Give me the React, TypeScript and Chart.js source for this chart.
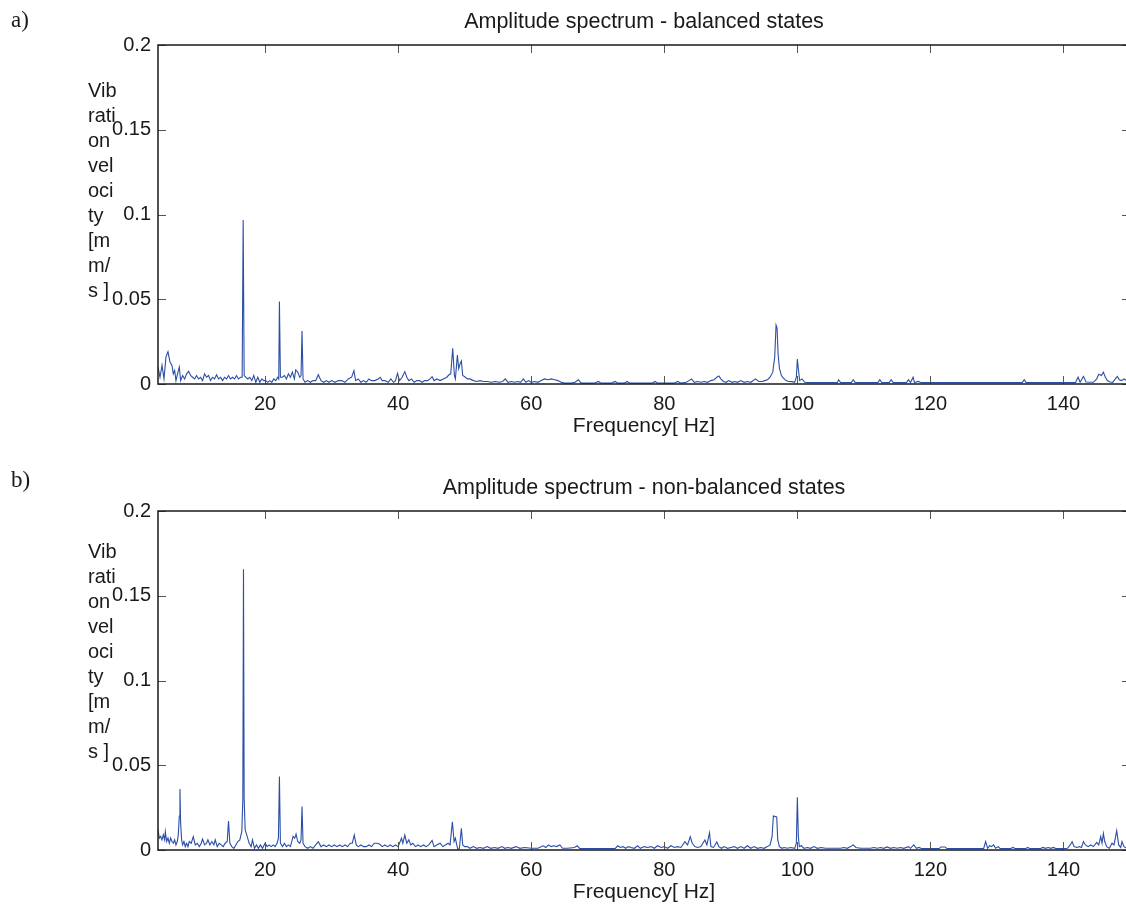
import React, { useEffect, useRef } from 'react';
import { Chart, registerables } from 'chart.js';

Chart.register(...registerables);

const X_MIN = 3.9;
const X_MAX = 150;
const Y_MIN = 0;
const Y_MAX = 0.2;
const X_TICKS = [20, 40, 60, 80, 100, 120, 140];
const Y_TICKS = [0, 0.05, 0.1, 0.15, 0.2];
const Y_TICK_LABELS = ['0', '0.05', '0.1', '0.15', '0.2'];
const Y_LABEL_LINES = ['Vib', 'rati', 'on', 'vel', 'oci', 'ty', '[m', 'm/', 's ]'];
const X_LABEL = 'Frequency[ Hz]';
const TITLE_A = 'Amplitude spectrum - balanced states';
const TITLE_B = 'Amplitude spectrum - non-balanced states';
const TAG_A = 'a)';
const TAG_B = 'b)';

// [frequency Hz, amplitude mm/s]
const BALANCED: [number, number][] = [
  [3.9, 0.010], [4.2, 0.004], [4.5, 0.011], [4.8, 0.003], [5.1, 0.016], [5.4, 0.019], [5.7, 0.013], [6.0, 0.011],
  [6.2, 0.006], [6.4, 0.008], [6.6, 0.002], [6.9, 0.007], [7.1, 0.010], [7.3, 0.002], [7.6, 0.005], [7.9, 0.003],
  [8.2, 0.006], [8.5, 0.0075], [8.8, 0.005], [9.1, 0.004], [9.4, 0.003], [9.7, 0.005], [10.0, 0.003], [10.3, 0.004],
  [10.6, 0.002], [10.9, 0.006], [11.2, 0.004], [11.5, 0.005], [11.8, 0.002], [12.1, 0.004], [12.4, 0.003], [12.7, 0.0055],
  [13.0, 0.003], [13.3, 0.004], [13.6, 0.002], [13.9, 0.004], [14.2, 0.003], [14.5, 0.005], [14.8, 0.003], [15.1, 0.004],
  [15.4, 0.003], [15.7, 0.005], [16.0, 0.003], [16.3, 0.004], [16.55, 0.004], [16.7, 0.0968], [16.85, 0.005], [17.1, 0.004],
  [17.4, 0.003], [17.7, 0.004], [18.0, 0.002], [18.3, 0.005], [18.6, 0.001], [18.9, 0.004], [19.2, 0.001], [19.5, 0.003],
  [19.8, 0.002], [20.1, 0.002], [20.4, 0.001], [20.7, 0.002], [21.0, 0.001], [21.3, 0.003], [21.6, 0.002], [21.9, 0.004],
  [22.05, 0.003], [22.15, 0.0486], [22.3, 0.004], [22.6, 0.004], [22.9, 0.005], [23.2, 0.003], [23.5, 0.006], [23.8, 0.004],
  [24.1, 0.007], [24.4, 0.003], [24.6, 0.0083], [24.9, 0.007], [25.2, 0.004], [25.4, 0.005], [25.55, 0.0313], [25.7, 0.003],
  [26.0, 0.001], [26.4, 0.002], [26.8, 0.001], [27.2, 0.002], [27.6, 0.002], [28.0, 0.0055], [28.4, 0.002], [28.8, 0.001],
  [29.2, 0.002], [29.6, 0.001], [30.0, 0.002], [30.5, 0.001], [31.0, 0.002], [31.5, 0.002], [32.0, 0.001], [32.5, 0.003],
  [33.0, 0.004], [33.35, 0.0079], [33.6, 0.002], [34.0, 0.003], [34.4, 0.001], [34.8, 0.002], [35.2, 0.001], [35.6, 0.003],
  [36.0, 0.002], [36.5, 0.002], [37.0, 0.003], [37.3, 0.004], [37.6, 0.002], [38.0, 0.002], [38.5, 0.001], [38.9, 0.003],
  [39.3, 0.001], [39.6, 0.002], [39.9, 0.0063], [40.2, 0.002], [40.6, 0.004], [41.0, 0.0073], [41.3, 0.004], [41.6, 0.002],
  [42.0, 0.003], [42.4, 0.001], [42.8, 0.002], [43.2, 0.002], [43.6, 0.001], [44.0, 0.002], [44.4, 0.002], [44.8, 0.003],
  [45.1, 0.0043], [45.4, 0.002], [45.8, 0.003], [46.3, 0.002], [46.8, 0.003], [47.3, 0.004], [47.6, 0.0053], [47.9, 0.006],
  [48.2, 0.021], [48.45, 0.005], [48.6, 0.003], [48.9, 0.0171], [49.1, 0.009], [49.3, 0.012], [49.5, 0.0136], [49.7, 0.005],
  [50.0, 0.0043], [50.4, 0.003], [50.8, 0.003], [51.3, 0.002], [51.8, 0.0015], [52.3, 0.002], [52.8, 0.0015], [53.4, 0.0015],
  [54.0, 0.001], [54.6, 0.0015], [55.2, 0.001], [55.7, 0.0015], [56.1, 0.003], [56.5, 0.001], [57.0, 0.0015], [57.5, 0.001],
  [58.0, 0.0015], [58.4, 0.001], [58.8, 0.003], [59.2, 0.001], [59.6, 0.002], [60.0, 0.001], [60.5, 0.0015], [61.0, 0.001],
  [61.5, 0.002], [62.0, 0.003], [62.5, 0.0025], [63.0, 0.003], [63.5, 0.0025], [64.0, 0.002], [64.5, 0.001], [65.0, 0.0005],
  [66.0, 0.0005], [66.6, 0.001], [67.1, 0.0025], [67.5, 0.0005], [68.5, 0.0005], [69.5, 0.0005], [70.1, 0.0015], [70.5, 0.0005],
  [72.0, 0.0005], [72.6, 0.0015], [73.0, 0.0005], [74.0, 0.0005], [74.4, 0.0015], [74.8, 0.0005], [76.0, 0.0005], [77.0, 0.0005],
  [78.2, 0.0005], [78.6, 0.0015], [79.0, 0.0005], [80.5, 0.0005], [81.5, 0.0005], [82.0, 0.0015], [82.5, 0.0005], [83.3, 0.001],
  [83.7, 0.002], [84.1, 0.003], [84.5, 0.001], [85.0, 0.0015], [85.5, 0.001], [86.0, 0.0015], [86.5, 0.001], [87.0, 0.002],
  [87.5, 0.0025], [87.9, 0.004], [88.2, 0.0047], [88.5, 0.003], [88.9, 0.0015], [89.3, 0.001], [89.7, 0.002], [90.2, 0.001],
  [90.6, 0.0015], [91.0, 0.001], [91.5, 0.002], [92.0, 0.001], [92.5, 0.0015], [93.0, 0.001], [93.7, 0.003], [94.2, 0.0015],
  [94.7, 0.0015], [95.1, 0.002], [95.5, 0.0025], [95.9, 0.004], [96.3, 0.007], [96.6, 0.016], [96.8, 0.0348], [96.95, 0.033],
  [97.1, 0.018], [97.3, 0.0094], [97.6, 0.005], [97.9, 0.0035], [98.3, 0.002], [98.7, 0.0015], [99.2, 0.0014], [99.6, 0.001],
  [99.85, 0.004], [100.0, 0.0147], [100.15, 0.009], [100.35, 0.002], [100.7, 0.003], [101.1, 0.001], [101.5, 0.0008], [106.0, 0.0008],
  [106.2, 0.0025], [106.5, 0.0008], [108.1, 0.0008], [108.4, 0.0025], [108.7, 0.0008], [112.1, 0.0008], [112.4, 0.0025], [112.7, 0.0008],
  [113.8, 0.0008], [114.1, 0.0025], [114.4, 0.0008], [116.4, 0.0008], [116.7, 0.0025], [117.0, 0.0008], [117.4, 0.004], [117.6, 0.0008],
  [118.2, 0.0015], [118.6, 0.0008], [133.8, 0.0008], [134.1, 0.0025], [134.4, 0.0008], [141.8, 0.0008], [142.2, 0.004], [142.5, 0.001],
  [143.0, 0.0045], [143.4, 0.0012], [144.5, 0.001], [145.0, 0.003], [145.3, 0.0057], [145.7, 0.005], [146.0, 0.0069], [146.3, 0.004],
  [146.6, 0.002], [147.0, 0.0012], [147.4, 0.001], [147.8, 0.003], [148.1, 0.0045], [148.4, 0.0025], [148.7, 0.002], [149.1, 0.003],
  [149.5, 0.002], [150.0, 0.002],
];

const NON_BALANCED: [number, number][] = [
  [3.9, 0.012], [4.1, 0.007], [4.3, 0.008], [4.5, 0.006], [4.7, 0.009], [4.9, 0.006], [5.0, 0.0108], [5.2, 0.005],
  [5.4, 0.007], [5.6, 0.004], [5.8, 0.007], [6.0, 0.005], [6.2, 0.004], [6.4, 0.006], [6.6, 0.003], [6.8, 0.005],
  [6.95, 0.009], [7.1, 0.02], [7.2, 0.036], [7.3, 0.016], [7.45, 0.006], [7.6, 0.003], [7.8, 0.005], [8.0, 0.002],
  [8.2, 0.004], [8.4, 0.002], [8.6, 0.005], [8.9, 0.004], [9.2, 0.0079], [9.5, 0.003], [9.8, 0.004], [10.1, 0.002],
  [10.4, 0.004], [10.6, 0.0065], [10.9, 0.003], [11.2, 0.004], [11.4, 0.006], [11.7, 0.003], [12.0, 0.005], [12.3, 0.003],
  [12.5, 0.006], [12.8, 0.002], [13.1, 0.004], [13.4, 0.003], [13.7, 0.002], [14.0, 0.004], [14.3, 0.005], [14.5, 0.0171],
  [14.7, 0.004], [15.0, 0.002], [15.3, 0.001], [15.6, 0.003], [15.9, 0.005], [16.2, 0.006], [16.5, 0.011], [16.65, 0.03],
  [16.75, 0.1656], [16.85, 0.03], [17.0, 0.012], [17.3, 0.008], [17.6, 0.004], [17.9, 0.002], [18.1, 0.006], [18.4, 0.001],
  [18.7, 0.003], [19.0, 0.001], [19.3, 0.003], [19.6, 0.001], [20.0, 0.004], [20.3, 0.002], [20.6, 0.003], [20.9, 0.002],
  [21.2, 0.003], [21.5, 0.002], [21.8, 0.004], [22.0, 0.007], [22.15, 0.0433], [22.3, 0.004], [22.6, 0.002], [22.9, 0.004],
  [23.2, 0.002], [23.5, 0.003], [23.8, 0.002], [24.0, 0.005], [24.2, 0.008], [24.45, 0.007], [24.65, 0.0094], [24.9, 0.005],
  [25.2, 0.004], [25.4, 0.006], [25.55, 0.0256], [25.7, 0.004], [26.0, 0.002], [26.4, 0.001], [26.8, 0.002], [27.2, 0.001],
  [27.6, 0.003], [28.0, 0.0049], [28.4, 0.002], [28.8, 0.003], [29.2, 0.002], [29.6, 0.003], [30.0, 0.002], [30.4, 0.003],
  [30.8, 0.002], [31.2, 0.003], [31.6, 0.002], [32.0, 0.003], [32.4, 0.002], [32.8, 0.004], [33.1, 0.004], [33.4, 0.0088],
  [33.7, 0.003], [34.0, 0.002], [34.4, 0.003], [34.8, 0.002], [35.2, 0.002], [35.6, 0.003], [36.0, 0.002], [36.4, 0.004],
  [36.8, 0.004], [37.2, 0.0035], [37.6, 0.002], [38.0, 0.003], [38.4, 0.002], [38.8, 0.003], [39.2, 0.002], [39.6, 0.003],
  [40.0, 0.002], [40.3, 0.005], [40.5, 0.0069], [40.7, 0.004], [41.0, 0.0088], [41.3, 0.004], [41.6, 0.006], [41.9, 0.003],
  [42.2, 0.004], [42.6, 0.002], [43.0, 0.003], [43.4, 0.002], [43.8, 0.003], [44.2, 0.002], [44.6, 0.003], [45.1, 0.0057],
  [45.4, 0.002], [45.8, 0.003], [46.3, 0.004], [46.7, 0.002], [47.1, 0.003], [47.5, 0.004], [47.8, 0.003], [48.15, 0.0167],
  [48.4, 0.005], [48.6, 0.007], [48.8, 0.003], [49.0, 0.0], [49.2, 0.001], [49.5, 0.0128], [49.7, 0.003], [50.0, 0.002],
  [50.4, 0.0021], [50.8, 0.001], [51.3, 0.002], [51.8, 0.001], [52.3, 0.0015], [52.8, 0.001], [53.4, 0.002], [53.9, 0.001],
  [54.5, 0.0015], [55.0, 0.001], [55.6, 0.002], [56.0, 0.001], [56.5, 0.0015], [57.0, 0.001], [57.7, 0.002], [58.3, 0.001],
  [59.0, 0.0015], [60.0, 0.001], [60.5, 0.001], [61.0, 0.001], [61.8, 0.0025], [62.2, 0.0015], [62.6, 0.003], [63.0, 0.002],
  [63.4, 0.0025], [63.8, 0.002], [64.3, 0.003], [64.7, 0.001], [65.5, 0.001], [66.5, 0.0015], [66.9, 0.0025], [67.3, 0.0008],
  [72.6, 0.0008], [73.0, 0.0025], [73.4, 0.0015], [73.8, 0.002], [74.2, 0.001], [74.6, 0.002], [75.0, 0.0015], [75.5, 0.001],
  [76.0, 0.0025], [76.4, 0.001], [77.0, 0.002], [77.5, 0.0015], [78.0, 0.002], [78.5, 0.001], [79.0, 0.0025], [79.5, 0.0015],
  [80.0, 0.002], [80.5, 0.001], [81.0, 0.0025], [81.5, 0.0015], [82.0, 0.002], [82.5, 0.0015], [83.1, 0.0049], [83.5, 0.003],
  [83.9, 0.0079], [84.2, 0.004], [84.6, 0.002], [85.0, 0.0015], [85.5, 0.002], [85.8, 0.004], [86.1, 0.0059], [86.4, 0.003],
  [86.8, 0.0102], [87.0, 0.002], [87.4, 0.0015], [87.9, 0.0047], [88.2, 0.002], [88.6, 0.001], [89.0, 0.002], [89.5, 0.001],
  [90.0, 0.0015], [90.5, 0.002], [91.0, 0.001], [91.5, 0.002], [92.0, 0.001], [92.5, 0.0025], [93.0, 0.001], [93.5, 0.002],
  [94.0, 0.001], [94.5, 0.0015], [95.0, 0.001], [95.5, 0.002], [95.9, 0.003], [96.2, 0.008], [96.4, 0.0201], [96.7, 0.0197],
  [96.9, 0.0195], [97.05, 0.006], [97.3, 0.002], [97.7, 0.001], [98.0, 0.0015], [98.5, 0.001], [99.0, 0.0015], [99.6, 0.001],
  [99.85, 0.004], [100.0, 0.0311], [100.15, 0.008], [100.3, 0.002], [100.6, 0.0025], [101.0, 0.001], [101.5, 0.0015], [102.0, 0.001],
  [102.5, 0.002], [103.0, 0.001], [103.6, 0.0015], [104.2, 0.001], [106.5, 0.001], [107.0, 0.0015], [107.5, 0.001], [108.0, 0.002],
  [108.4, 0.003], [108.8, 0.0015], [109.5, 0.001], [111.0, 0.001], [111.5, 0.0015], [112.0, 0.001], [112.5, 0.0015], [113.0, 0.001],
  [113.5, 0.0018], [114.0, 0.001], [114.5, 0.0015], [115.0, 0.001], [115.5, 0.0015], [116.0, 0.001], [116.7, 0.002], [117.0, 0.001],
  [117.5, 0.003], [117.9, 0.001], [118.3, 0.0015], [118.7, 0.0008], [121.3, 0.0008], [121.6, 0.0018], [122.2, 0.0018], [122.5, 0.0008],
  [128.0, 0.0008], [128.3, 0.005], [128.6, 0.001], [128.9, 0.0025], [129.2, 0.002], [129.5, 0.003], [129.8, 0.001], [130.2, 0.002],
  [130.5, 0.0008], [132.0, 0.0008], [132.4, 0.0015], [132.8, 0.0008], [134.3, 0.0008], [134.6, 0.0015], [135.0, 0.0008], [136.5, 0.0008],
  [136.9, 0.0015], [137.3, 0.001], [137.7, 0.0015], [138.1, 0.001], [138.5, 0.0015], [138.9, 0.0008], [140.0, 0.0008], [140.6, 0.001],
  [141.0, 0.003], [141.3, 0.0049], [141.6, 0.002], [142.0, 0.0015], [142.4, 0.002], [142.7, 0.0015], [143.0, 0.005], [143.3, 0.003],
  [143.7, 0.002], [144.1, 0.003], [144.5, 0.002], [145.0, 0.0045], [145.3, 0.003], [145.6, 0.0079], [145.8, 0.004], [146.0, 0.0098],
  [146.2, 0.005], [146.5, 0.002], [146.9, 0.001], [147.3, 0.004], [147.6, 0.003], [148.0, 0.0114], [148.3, 0.003], [148.6, 0.0015],
  [148.8, 0.005], [149.1, 0.002], [149.5, 0.001], [150.0, 0.001],
];

const LINE_COLOR = '#2B4EA6';
const SANS = '"Liberation Sans", Arial, Helvetica, sans-serif';
const SERIF = '"Liberation Serif", "Times New Roman", serif';
const CANVAS_W = 1130;

type PanelProps = {
  tag: string;
  title: string;
  points: [number, number][];
  height: number;
  tagBaseline: number;
  labelBaseline: number;
  titleBaseline: number;
};

function Panel({ tag, title, points, height, tagBaseline, labelBaseline, titleBaseline }: PanelProps) {
  const ref = useRef<HTMLCanvasElement | null>(null);

  useEffect(() => {
    const canvas = ref.current;
    if (!canvas) return;

    const frame = {
      id: 'frame',
      afterDraw(chart: any) {
        const { ctx, chartArea: a, scales } = chart;
        const xs = scales.x;
        const ys = scales.y;
        ctx.save();
        // inward ticks on all four sides
        ctx.strokeStyle = '#555';
        ctx.lineWidth = 1;
        ctx.beginPath();
        X_TICKS.forEach((v) => {
          const px = Math.round(xs.getPixelForValue(v)) + 0.5;
          ctx.moveTo(px, a.bottom);
          ctx.lineTo(px, a.bottom - 8);
          ctx.moveTo(px, a.top);
          ctx.lineTo(px, a.top + 8);
        });
        Y_TICKS.forEach((v) => {
          const py = Math.round(ys.getPixelForValue(v)) + 0.5;
          ctx.moveTo(a.left, py);
          ctx.lineTo(a.left + 8, py);
          ctx.moveTo(a.right, py);
          ctx.lineTo(a.right - 8, py);
        });
        ctx.stroke();
        // box
        ctx.strokeStyle = '#1a1a1a';
        ctx.lineWidth = 1.5;
        ctx.strokeRect(a.left, a.top, a.right - a.left, a.bottom - a.top);

        const cx = (a.left + a.right) / 2;
        ctx.fillStyle = '#1a1a1a';
        ctx.textBaseline = 'alphabetic';
        // title
        ctx.font = `21.5px ${SANS}`;
        ctx.textAlign = 'center';
        ctx.fillText(title, cx, titleBaseline);
        // x label
        ctx.font = `21px ${SANS}`;
        ctx.fillText(X_LABEL, cx, a.bottom + 48);
        // y label (wrapped)
        ctx.font = `20px ${SANS}`;
        ctx.textAlign = 'left';
        Y_LABEL_LINES.forEach((line, i) => {
          ctx.fillText(line, 88, labelBaseline + i * 25);
        });
        // panel tag
        ctx.font = `23px ${SERIF}`;
        ctx.fillText(tag, 11, tagBaseline);
        ctx.restore();
      },
    };

    Chart.defaults.color = '#1a1a1a';

    const chart = new Chart(canvas, {
      type: 'line',
      data: {
        datasets: [
          {
            data: points.map(([f, v]) => ({ x: f, y: v })),
            borderColor: LINE_COLOR,
            borderWidth: 1.1,
            pointRadius: 0,
            fill: false,
            tension: 0,
          },
        ],
      },
      options: {
        responsive: false,
        animation: false,
        events: [],
        layout: { padding: { top: 45, left: 0, right: 0, bottom: 0 } },
        plugins: {
          legend: { display: false },
          tooltip: { enabled: false },
          title: { display: false },
        },
        scales: {
          x: {
            type: 'linear',
            min: X_MIN,
            max: X_MAX,
            bounds: 'data',
            grid: { display: false, drawTicks: false },
            border: { display: false },
            afterBuildTicks: (s: any) => {
              s.ticks = X_TICKS.map((v) => ({ value: v }));
            },
            afterFit: (s: any) => {
              s.height = height - 384;
            },
            ticks: {
              autoSkip: false,
              maxRotation: 0,
              padding: 8,
              font: { family: SANS, size: 20 },
              color: '#1a1a1a',
              callback: (v: any) => String(v),
            },
          },
          y: {
            type: 'linear',
            min: Y_MIN,
            max: Y_MAX,
            bounds: 'data',
            grid: { display: false, drawTicks: false },
            border: { display: false },
            afterBuildTicks: (s: any) => {
              s.ticks = Y_TICKS.map((v) => ({ value: v }));
            },
            afterFit: (s: any) => {
              s.width = 158;
            },
            ticks: {
              autoSkip: false,
              padding: 7,
              font: { family: SANS, size: 20 },
              color: '#1a1a1a',
              callback: (_v: any, i: number) => Y_TICK_LABELS[i],
            },
          },
        },
      },
      plugins: [frame],
    } as any);

    return () => chart.destroy();
  }, [tag, title, points, height, tagBaseline, labelBaseline, titleBaseline]);

  return (
    <canvas
      ref={ref}
      width={CANVAS_W}
      height={height}
      style={{ display: 'block', width: CANVAS_W, height }}
    />
  );
}

export default function App() {
  return (
    <div
      style={{
        position: 'absolute',
        left: 0,
        top: 0,
        width: 1126,
        height: 904,
        overflow: 'hidden',
        background: '#fff',
      }}
    >
      <Panel tag={TAG_A} title={TITLE_A} points={BALANCED} height={466} tagBaseline={27} labelBaseline={97} titleBaseline={28} />
      <Panel tag={TAG_B} title={TITLE_B} points={NON_BALANCED} height={438} tagBaseline={21} labelBaseline={92} titleBaseline={28} />
    </div>
  );
}
